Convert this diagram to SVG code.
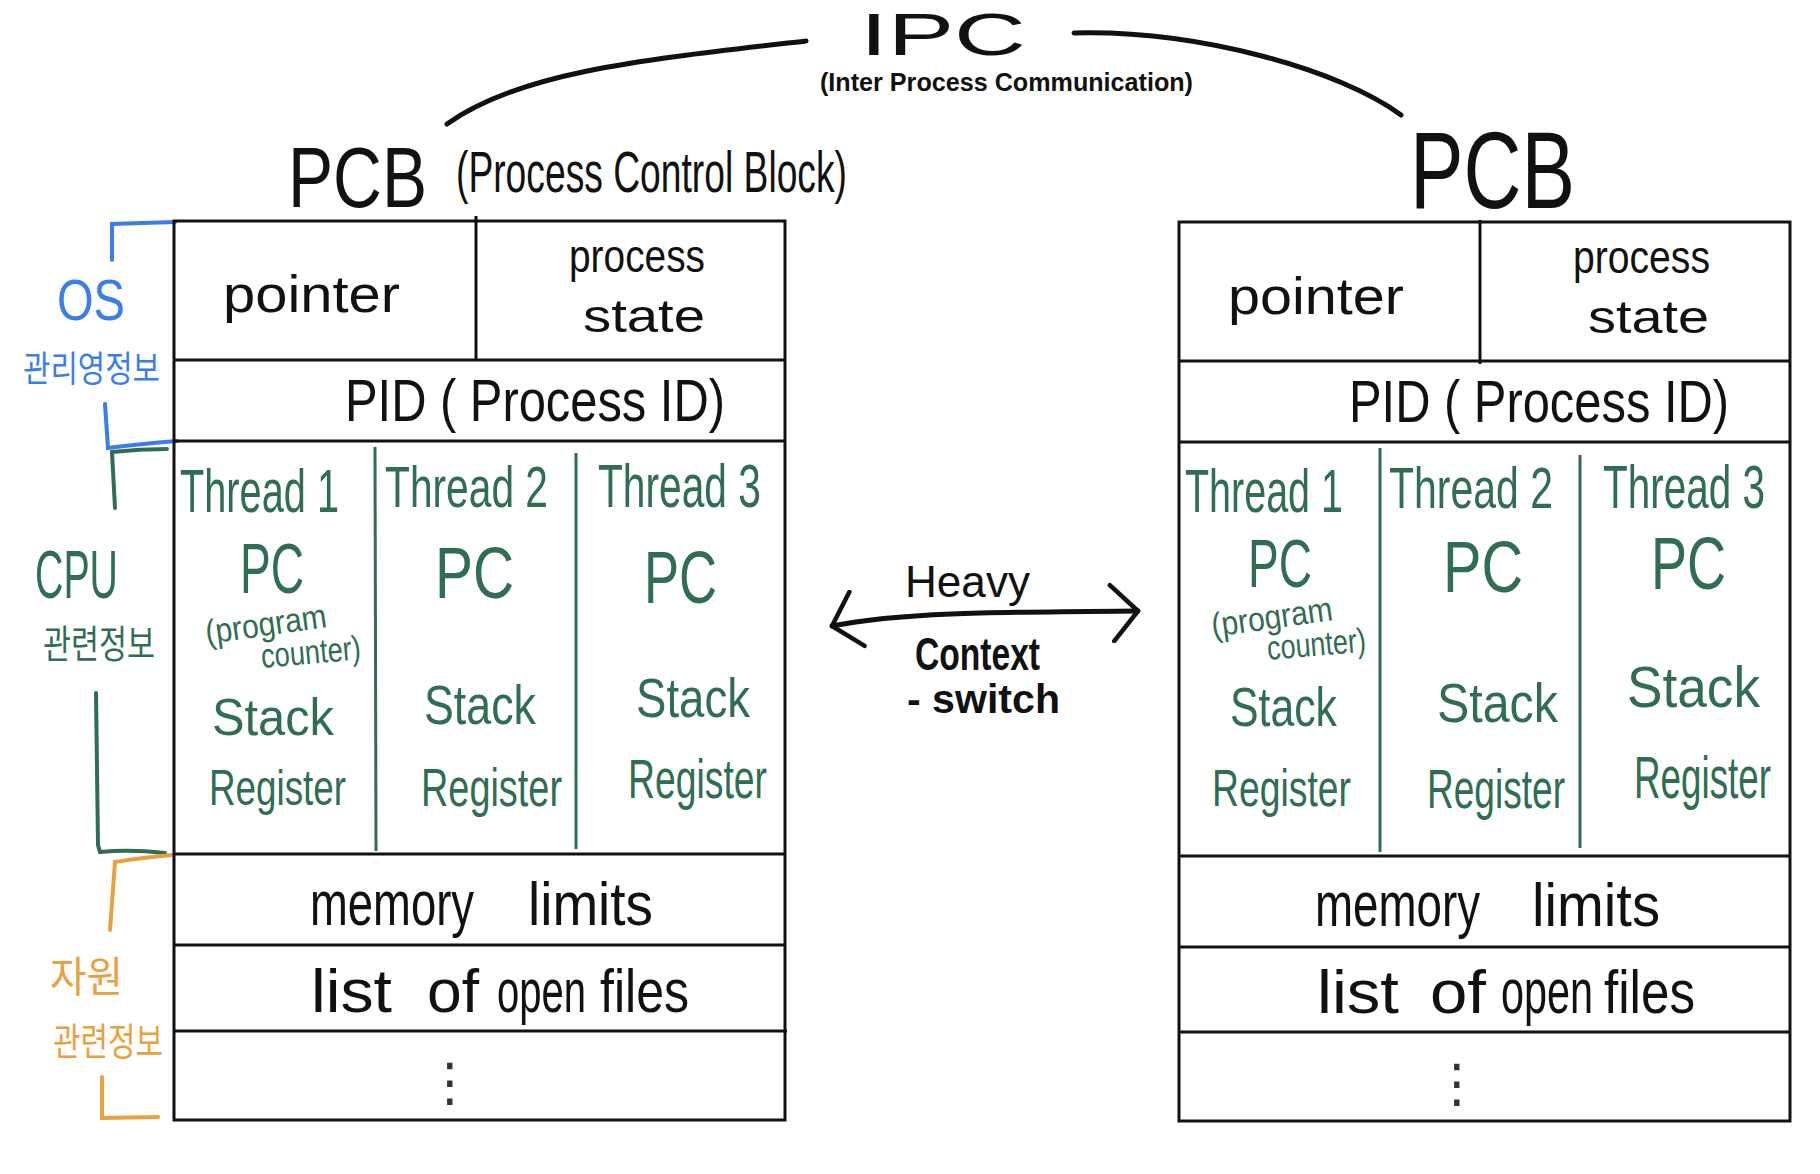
<svg xmlns="http://www.w3.org/2000/svg" width="1820" height="1174" viewBox="0 0 1820 1174">
<style>
text{font-family:"Liberation Sans","Noto Sans CJK KR",sans-serif}
.k{fill:#111}
.g{fill:#2f6e52}
.b{fill:#3a7deb}
.o{fill:#e9a03e}
.box{fill:none;stroke:#111;stroke-width:3}
.ln{stroke:#111;stroke-width:3;fill:none}
.gl{stroke:#2f6e52;stroke-width:3;fill:none}
.bb{stroke:#3a7deb;stroke-width:4;fill:none;stroke-linecap:round}
.gb{stroke:#2f6e52;stroke-width:4;fill:none;stroke-linecap:round}
.ob{stroke:#e9a03e;stroke-width:4;fill:none;stroke-linecap:round}
.cv{stroke:#111;stroke-width:5;fill:none;stroke-linecap:round}
.bd{font-weight:bold}
.dots{font-family:"DejaVu Sans",sans-serif;fill:#333}
</style>
<defs>
<marker id="chev" viewBox="-34 -32 38 64" markerWidth="38" markerHeight="64" refX="0" refY="0" markerUnits="userSpaceOnUse" orient="auto-start-reverse">
<path d="M-28,-26 L0,0 L-24,30" fill="none" stroke="#111" stroke-width="4.5" stroke-linecap="round" stroke-linejoin="round"/>
</marker>
</defs>
<rect width="1820" height="1174" fill="#fff"/>

<g id="ipc">
<text class="k" x="860" y="55" font-size="60" textLength="166" lengthAdjust="spacingAndGlyphs">IPC</text>
<text class="k bd" x="820" y="91" font-size="25" textLength="373" lengthAdjust="spacingAndGlyphs">(Inter Process Communication)</text>
</g>

<g id="connectors">
<path class="cv" d="M447,124 C520,72 640,60 806,41"/>
<path class="cv" d="M1074,33 C1200,30 1340,70 1401,115"/>
<path class="cv" d="M832,626 C900,612 1000,612 1138,611" marker-start="url(#chev)" marker-end="url(#chev)"/>
</g>

<g id="context-switch-label">
<text class="k" x="905" y="597" font-size="44" textLength="125" lengthAdjust="spacingAndGlyphs">Heavy</text>
<text class="k bd" x="915" font-size="33.6" textLength="125" lengthAdjust="spacingAndGlyphs" transform="translate(0 670) scale(1 1.37)">Context</text>
<text class="k bd" x="907" y="713" font-size="41" textLength="153" lengthAdjust="spacingAndGlyphs">- switch</text>
</g>

<g id="side-labels">
<path class="bb" d="M112,260 L112,224 L175,222"/>
<path class="bb" d="M105,404 L108,448 Q140,444 177,441"/>
<text class="b" x="57" font-size="47" textLength="68" lengthAdjust="spacingAndGlyphs" transform="translate(0 320) scale(1 1.23)">OS</text>
<text class="b" x="23" font-size="27.4" textLength="137" lengthAdjust="spacingAndGlyphs" transform="translate(0 382) scale(1 1.31)">관리영정보</text>
<path class="gb" d="M115,508 L112,452 Q140,449 167,449"/>
<text class="g" x="35" font-size="39.3" textLength="83" lengthAdjust="spacingAndGlyphs" transform="translate(0 598) scale(1 1.73)">CPU</text>
<text class="g" x="43" font-size="28" textLength="112" lengthAdjust="spacingAndGlyphs" transform="translate(0 658) scale(1 1.36)">관련정보</text>
<path class="gb" d="M96,693 L98,845 L100,852 Q130,849 165,853"/>
<path class="ob" d="M110,930 L115,862 Q140,858 172,855"/>
<text class="o" x="50" font-size="36.5" textLength="73" lengthAdjust="spacingAndGlyphs" transform="translate(0 992) scale(1 1.15)">자원</text>
<text class="o" x="53" font-size="27.5" textLength="110" lengthAdjust="spacingAndGlyphs" transform="translate(0 1055) scale(1 1.38)">관련정보</text>
<path class="ob" d="M102,1077 L102,1118 L158,1117"/>
</g>

<g id="pcb-left">
<text class="k" x="288" font-size="67.6" textLength="139" lengthAdjust="spacingAndGlyphs" transform="translate(0 207) scale(1 1.27)">PCB</text>
<text class="k" x="456" font-size="37.2" textLength="391" lengthAdjust="spacingAndGlyphs" transform="translate(0 192) scale(1 1.56)">(Process Control Block)</text>
<rect class="box" x="174" y="221" width="611" height="899"/>
<line class="ln" x1="476" y1="216" x2="476" y2="360"/>
<line class="ln" x1="174" y1="360" x2="785" y2="360"/>
<line class="ln" x1="174" y1="441" x2="785" y2="441"/>
<line class="ln" x1="174" y1="854" x2="785" y2="854"/>
<line class="ln" x1="174" y1="945" x2="785" y2="945"/>
<line class="ln" x1="174" y1="1031" x2="787" y2="1031"/>
<line class="gl" x1="375" y1="447" x2="376" y2="851"/>
<line class="gl" x1="576" y1="453" x2="576" y2="849"/>
<text class="k" x="223" y="312" font-size="52" textLength="177" lengthAdjust="spacingAndGlyphs">pointer</text>
<text class="k" x="569" font-size="38.9" textLength="136" lengthAdjust="spacingAndGlyphs" transform="translate(0 272) scale(1 1.18)">process</text>
<text class="k" x="583" y="332" font-size="46" textLength="122" lengthAdjust="spacingAndGlyphs">state</text>
<text class="k" x="345" font-size="48.8" textLength="380" lengthAdjust="spacingAndGlyphs" transform="translate(0 421) scale(1 1.23)">PID ( Process ID)</text>
<text class="g" x="180" font-size="39.7" textLength="159" lengthAdjust="spacingAndGlyphs" transform="translate(0 512) scale(1 1.56)">Thread 1</text>
<text class="g" x="385" font-size="40.7" textLength="163" lengthAdjust="spacingAndGlyphs" transform="translate(0 507) scale(1 1.42)">Thread 2</text>
<text class="g" x="598" font-size="40.7" textLength="163" lengthAdjust="spacingAndGlyphs" transform="translate(0 507) scale(1 1.52)">Thread 3</text>
<text class="g" x="240" font-size="46" textLength="64" lengthAdjust="spacingAndGlyphs" transform="translate(0 593) scale(1 1.52)">PC</text>
<text class="g" x="435" font-size="56.9" textLength="79" lengthAdjust="spacingAndGlyphs" transform="translate(0 598) scale(1 1.27)">PC</text>
<text class="g" x="644" font-size="52.6" textLength="73" lengthAdjust="spacingAndGlyphs" transform="translate(0 603) scale(1 1.41)">PC</text>
<text class="g" x="0" font-size="30" textLength="122" lengthAdjust="spacingAndGlyphs" transform="translate(207 644) rotate(-8) scale(1 1.13)">(program</text>
<text class="g" x="0" font-size="27.3" textLength="100" lengthAdjust="spacingAndGlyphs" transform="translate(262 668) rotate(-5) scale(1 1.25)">counter)</text>
<text class="g" x="212" font-size="48.8" textLength="122" lengthAdjust="spacingAndGlyphs" transform="translate(0 735) scale(1 1.07)">Stack</text>
<text class="g" x="424" font-size="44.8" textLength="112" lengthAdjust="spacingAndGlyphs" transform="translate(0 724) scale(1 1.25)">Stack</text>
<text class="g" x="636" font-size="45.6" textLength="114" lengthAdjust="spacingAndGlyphs" transform="translate(0 717) scale(1 1.23)">Stack</text>
<text class="g" x="209" font-size="36.8" textLength="137" lengthAdjust="spacingAndGlyphs" transform="translate(0 805) scale(1 1.36)">Register</text>
<text class="g" x="421" font-size="37.9" textLength="141" lengthAdjust="spacingAndGlyphs" transform="translate(0 806) scale(1 1.42)">Register</text>
<text class="g" x="628" font-size="37.3" textLength="139" lengthAdjust="spacingAndGlyphs" transform="translate(0 798) scale(1 1.5)">Register</text>
<text class="k" x="310" font-size="45.4" textLength="164" lengthAdjust="spacingAndGlyphs" transform="translate(0 925) scale(1 1.37)">memory</text>
<text class="k" x="528" font-size="54.9" textLength="125" lengthAdjust="spacingAndGlyphs" transform="translate(0 925) scale(1 1.13)">limits</text>
<text class="k" x="311" y="1012" font-size="62" textLength="81" lengthAdjust="spacingAndGlyphs">list</text>
<text class="k" x="427" y="1012" font-size="62" textLength="52" lengthAdjust="spacingAndGlyphs">of</text>
<text class="k" x="497" font-size="40" textLength="89" lengthAdjust="spacingAndGlyphs" transform="translate(0 1012) scale(1 1.55)">open</text>
<text class="k" x="600" font-size="50" textLength="89" lengthAdjust="spacingAndGlyphs" transform="translate(0 1012) scale(1 1.24)">files</text>
<text class="dots" x="450" y="1100" font-size="52" text-anchor="middle">⋮</text>
</g>

<g id="pcb-right">
<text class="k" x="1410" font-size="80.3" textLength="165" lengthAdjust="spacingAndGlyphs" transform="translate(0 208) scale(1 1.37)">PCB</text>
<rect class="box" x="1179" y="222" width="611" height="899"/>
<line class="ln" x1="1480" y1="220" x2="1480" y2="364"/>
<line class="ln" x1="1179" y1="361" x2="1790" y2="361"/>
<line class="ln" x1="1179" y1="442" x2="1790" y2="442"/>
<line class="ln" x1="1179" y1="856" x2="1790" y2="856"/>
<line class="ln" x1="1179" y1="947" x2="1790" y2="947"/>
<line class="ln" x1="1179" y1="1032" x2="1790" y2="1032"/>
<line class="gl" x1="1380" y1="448" x2="1380" y2="852"/>
<line class="gl" x1="1580" y1="455" x2="1580" y2="848"/>
<text class="k" x="1228" y="314" font-size="52" textLength="176" lengthAdjust="spacingAndGlyphs">pointer</text>
<text class="k" x="1573" font-size="39.1" textLength="137" lengthAdjust="spacingAndGlyphs" transform="translate(0 273) scale(1 1.18)">process</text>
<text class="k" x="1588" y="333" font-size="46" textLength="121" lengthAdjust="spacingAndGlyphs">state</text>
<text class="k" x="1349" font-size="48.8" textLength="380" lengthAdjust="spacingAndGlyphs" transform="translate(0 422) scale(1 1.23)">PID ( Process ID)</text>
<text class="g" x="1185" font-size="39.5" textLength="158" lengthAdjust="spacingAndGlyphs" transform="translate(0 512) scale(1 1.57)">Thread 1</text>
<text class="g" x="1389" font-size="41" textLength="164" lengthAdjust="spacingAndGlyphs" transform="translate(0 508) scale(1 1.41)">Thread 2</text>
<text class="g" x="1603" font-size="40.5" textLength="162" lengthAdjust="spacingAndGlyphs" transform="translate(0 508) scale(1 1.53)">Thread 3</text>
<text class="g" x="1248" font-size="46.1" textLength="64" lengthAdjust="spacingAndGlyphs" transform="translate(0 587) scale(1 1.48)">PC</text>
<text class="g" x="1443" font-size="57.6" textLength="80" lengthAdjust="spacingAndGlyphs" transform="translate(0 592) scale(1 1.25)">PC</text>
<text class="g" x="1651" font-size="54" textLength="75" lengthAdjust="spacingAndGlyphs" transform="translate(0 589) scale(1 1.37)">PC</text>
<text class="g" x="0" font-size="30" textLength="122" lengthAdjust="spacingAndGlyphs" transform="translate(1213 637) rotate(-8) scale(1 1.13)">(program</text>
<text class="g" x="0" font-size="27" textLength="99" lengthAdjust="spacingAndGlyphs" transform="translate(1268 660) rotate(-5) scale(1 1.26)">counter)</text>
<text class="g" x="1230" font-size="42.8" textLength="107" lengthAdjust="spacingAndGlyphs" transform="translate(0 726) scale(1 1.31)">Stack</text>
<text class="g" x="1437" font-size="48.4" textLength="121" lengthAdjust="spacingAndGlyphs" transform="translate(0 722) scale(1 1.16)">Stack</text>
<text class="g" x="1627" font-size="53.2" textLength="133" lengthAdjust="spacingAndGlyphs" transform="translate(0 707) scale(1 1.09)">Stack</text>
<text class="g" x="1212" font-size="37.3" textLength="139" lengthAdjust="spacingAndGlyphs" transform="translate(0 806) scale(1 1.39)">Register</text>
<text class="g" x="1427" font-size="37.1" textLength="138" lengthAdjust="spacingAndGlyphs" transform="translate(0 808) scale(1 1.51)">Register</text>
<text class="g" x="1634" font-size="36.8" textLength="137" lengthAdjust="spacingAndGlyphs" transform="translate(0 798) scale(1 1.63)">Register</text>
<text class="k" x="1315" font-size="45.7" textLength="165" lengthAdjust="spacingAndGlyphs" transform="translate(0 926) scale(1 1.36)">memory</text>
<text class="k" x="1532" font-size="56.2" textLength="128" lengthAdjust="spacingAndGlyphs" transform="translate(0 926) scale(1 1.1)">limits</text>
<text class="k" x="1317" y="1013" font-size="62" textLength="82" lengthAdjust="spacingAndGlyphs">list</text>
<text class="k" x="1430" y="1013" font-size="62" textLength="56" lengthAdjust="spacingAndGlyphs">of</text>
<text class="k" x="1501" font-size="41.4" textLength="92" lengthAdjust="spacingAndGlyphs" transform="translate(0 1013) scale(1 1.5)">open</text>
<text class="k" x="1604" font-size="51.2" textLength="91" lengthAdjust="spacingAndGlyphs" transform="translate(0 1013) scale(1 1.21)">files</text>
<text class="dots" x="1457" y="1101" font-size="52" text-anchor="middle">⋮</text>
</g>
</svg>
